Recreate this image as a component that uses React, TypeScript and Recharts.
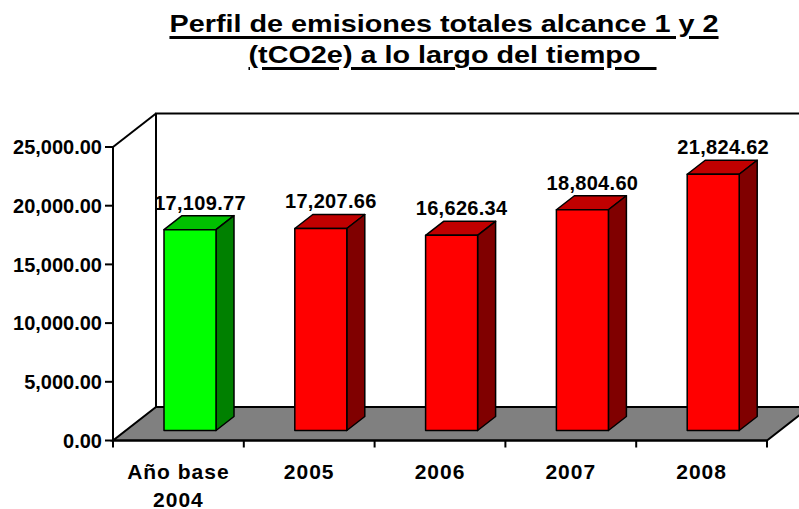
import { Bar, BarChart, LabelList, ReferenceArea, XAxis, YAxis } from 'recharts';

const categories = ['Año base\n2004', '2005', '2006', '2007', '2008'];
const emissions = [17109.77, 17207.66, 16626.34, 18804.6, 21824.62];
const yTicks = [0, 5000, 10000, 15000, 20000, 25000];
const titleLines = ['Perfil de emisiones totales alcance 1 y 2', '(tCO2e) a lo largo del tiempo\u00a0\u00a0'];

const FONT = '"Liberation Sans", Arial, sans-serif';
// floor depth and bar placement inside it
const FLOOR_DX = 43;
const FLOOR_DY = 33.5;
const BAR_SHIFT_X = 12;
const BAR_SHIFT_Y = 10;
const BAR_DX = 18;
const BAR_DY = 14;

const GREEN = { front: '#00ff00', top: '#00c000', side: '#008000' };
const RED = { front: '#ff0000', top: '#c00000', side: '#800000' };

const data = categories.map((name, i) => ({ name, value: emissions[i] }));

const fmt = (v: number) =>
  v.toLocaleString('en-US', { minimumFractionDigits: 2, maximumFractionDigits: 2 });

function Room(props: any) {
  const { x, y, width, height } = props;
  const bottom = y + height;
  const right = x + width;
  const n = categories.length;
  const ticks = Array.from({ length: n + 1 }, (_, i) => x + (width * i) / n);
  return (
    <g>
      <polygon
        points={`${x + FLOOR_DX},${y - FLOOR_DY} ${right + FLOOR_DX + 40},${y - FLOOR_DY} ${right + FLOOR_DX + 40},${bottom - FLOOR_DY} ${x + FLOOR_DX},${bottom - FLOOR_DY}`}
        fill="#ffffff"
        stroke="#000"
        strokeWidth={2}
      />
      <line x1={x} y1={y} x2={x + FLOOR_DX} y2={y - FLOOR_DY} stroke="#000" strokeWidth={2} />
      <polygon
        points={`${x},${bottom} ${right},${bottom} ${right + FLOOR_DX},${bottom - FLOOR_DY} ${x + FLOOR_DX},${bottom - FLOOR_DY}`}
        fill="#808080"
        stroke="#000"
        strokeWidth={2}
        strokeLinejoin="miter"
      />
      {ticks.map((tx, i) => (
        <line key={i} x1={tx} y1={bottom} x2={tx} y2={bottom + 7} stroke="#000" strokeWidth={2} />
      ))}
    </g>
  );
}

function Box3D(props: any) {
  const { x, y, width, height, index } = props;
  const c = index === 0 ? GREEN : RED;
  const fx = x + BAR_SHIFT_X;
  const fy = y - BAR_SHIFT_Y;
  const r = fx + width;
  const b = fy + height;
  return (
    <g stroke="#000" strokeWidth={1.5} strokeLinejoin="round">
      <polygon
        points={`${fx},${fy} ${fx + BAR_DX},${fy - BAR_DY} ${r + BAR_DX},${fy - BAR_DY} ${r},${fy}`}
        fill={c.top}
      />
      <polygon
        points={`${r},${fy} ${r + BAR_DX},${fy - BAR_DY} ${r + BAR_DX},${b - BAR_DY} ${r},${b}`}
        fill={c.side}
      />
      <rect x={fx} y={fy} width={width} height={height} fill={c.front} />
    </g>
  );
}

function ValueLabel(props: any) {
  const { x, y, width, value } = props;
  const cx = x + BAR_SHIFT_X + width / 2 + 10;
  const by = y - BAR_SHIFT_Y - BAR_DY - 6;
  return (
    <text x={cx} y={by} textAnchor="middle" fontFamily={FONT} fontWeight="bold" fontSize={20} letterSpacing={0.3} fill="#000">
      {fmt(value)}
    </text>
  );
}

function CategoryTick(props: any) {
  const { x, y, payload } = props;
  const lines = String(payload.value).split('\n');
  return (
    <text textAnchor="middle" fontFamily={FONT} fontWeight="bold" fontSize={21} letterSpacing={1} fill="#000">
      {lines.map((l, i) => (
        <tspan key={i} x={x} y={y + 36 + i * 28}>
          {l}
        </tspan>
      ))}
    </text>
  );
}

export default function App() {
  return (
    <div style={{ position: 'absolute', left: 0, top: 0, width: 799, height: 509, background: '#fff' }}>
      <BarChart
        width={799}
        height={509}
        data={data}
        margin={{ top: 147, right: 32, bottom: 0, left: 0 }}
        barSize={52}
      >
        <ReferenceArea y1={0} y2={25000} ifOverflow="visible" shape={<Room />} />
        <XAxis
          dataKey="name"
          tickLine={false}
          tickSize={0}
          height={68.5}
          axisLine={{ stroke: '#000', strokeWidth: 2 }}
          tick={<CategoryTick />}
          interval={0}
        />
        <YAxis
          width={113}
          domain={[0, 25000]}
          ticks={yTicks}
          tickFormatter={fmt}
          tickSize={8}
          tickMargin={3}
          axisLine={{ stroke: '#000', strokeWidth: 2 }}
          tickLine={{ stroke: '#000', strokeWidth: 2 }}
          tick={{ fill: '#000', fontSize: 20, fontWeight: 'bold', fontFamily: FONT }}
        />
        <Bar dataKey="value" isAnimationActive={false} shape={<Box3D />}>
          <LabelList dataKey="value" content={<ValueLabel />} />
        </Bar>
      </BarChart>
      {titleLines.map((t, i) => (
        <div
          key={i}
          style={{
            position: 'absolute',
            left: 0,
            width: i === 0 ? 888 : 905,
            top: i === 0 ? 11.7 : 43.2,
            textAlign: 'center',
            fontFamily: FONT,
            fontWeight: 'bold',
            fontSize: 24,
            lineHeight: '24px',
            whiteSpace: 'pre',
            transform: 'scaleX(1.2)',
            transformOrigin: 'center',
          }}
        >
          <span
            style={{
              textDecoration: 'underline',
              textDecorationThickness: '2.5px',
              textUnderlineOffset: '4px',
            }}
          >
            {t}
          </span>
        </div>
      ))}
    </div>
  );
}
